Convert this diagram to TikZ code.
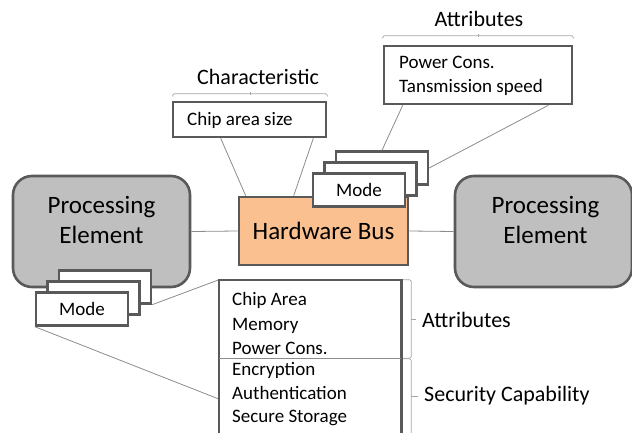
\documentclass[tikz,border=0pt]{standalone}
\usepackage{fontspec}
\setmainfont{Carlito}
\usetikzlibrary{calc}
\definecolor{bordc}{HTML}{595959}
\definecolor{pegray}{HTML}{BFBFBF}
\definecolor{hborange}{HTML}{FAC090}
\definecolor{linec}{HTML}{8C8C8C}
\definecolor{brc}{HTML}{A6A6A6}
\tikzset{
  pebox/.style={draw=bordc, line width=2.6pt, fill=pegray, rounded corners=19pt, minimum width=177pt, minimum height=111pt, inner sep=0pt},
  bigtext/.style={font=\fontsize{25}{30}\selectfont, align=center, inner sep=0pt},
  hbbox/.style={draw=bordc, line width=2.6pt, fill=hborange, minimum width=169pt, minimum height=68pt, inner sep=0pt, font=\fontsize{25}{30}\selectfont},
  modebox/.style={draw=bordc, line width=2.4pt, fill=white, minimum width=92pt, minimum height=33pt, inner sep=0pt, font=\fontsize{19}{23}\selectfont},
  infobox/.style={draw=bordc, line width=2.6pt, fill=white, inner sep=0pt},
  boxtext/.style={font=\fontsize{19}{24.5}\selectfont, align=left, inner sep=0pt},
  labeltext/.style={font=\fontsize{22}{26}\selectfont, inner sep=0pt},
  conn/.style={draw=linec, line width=0.8pt},
  brace/.style={draw=brc, line width=0.8pt, rounded corners=1.5pt},
}
\begin{document}
\begin{tikzpicture}[x=1pt,y=-1pt]
\useasboundingbox (0,0) rectangle (632,433);
\clip (0,0) rectangle (632,433);

% main nodes
\node[pebox] (peL) at (101.5,231.5) {};
\node[pebox] (peR) at (543.5,231.5) {};
\node[hbbox] (hb) at (323.5,231) {Hardware Bus};
\node[infobox, minimum width=153pt, minimum height=35pt] (ca) at (249.5,119.5) {};
\node[infobox, minimum width=188pt, minimum height=58pt] (at) at (478,75) {};
\node[minimum width=182pt, minimum height=78pt, inner sep=0pt] (battr) at (310,319) {};
\node[minimum width=182pt, minimum height=82pt, inner sep=0pt] (bsec) at (310,399) {};

% connectors (behind)
\draw[conn] (peL.east) -- (hb.west);
\draw[conn] (hb.east) -- (peR.west);
\coordinate (c1) at ($(ca.south west)+(49,0)$);
\coordinate (c2) at ($(hb.north west)+(8,0)$);
\coordinate (c3) at ($(ca.south east)+(-14,0)$);
\coordinate (c4) at ($(hb.north west)+(56,0)$);
\draw[conn] (c1) -- (c2);
\draw[conn] (c3) -- (c4);
\coordinate (a1) at ($(at.south west)+(20,0)$);
\coordinate (a2) at ($(at.south east)+(-25,0)$);

% PE texts
\node[bigtext] (peLt) at (101.5,220) {Processing\\Element};
\node[bigtext] (peRt) at (545.5,220) {Processing\\Element};

% top mode stack
\node[modebox] (mt3) at (382,168) {};
\node[modebox] (mt2) at (370.5,179) {};
\node[modebox] (mt1) at (359,190) {Mode};
\draw[conn] (a1) -- (mt3.north);
\draw[conn] (a2) -- (mt3.east);

% bottom-left mode stack
\node[modebox] (mb3) at (105,287) {};
\node[modebox] (mb2) at (93.5,298) {};
\node[modebox] (mb1) at (82,309) {Mode};
\draw[conn] (mb3.south east) -- (battr.north west);
\draw[conn] (mb1.south west) -- (bsec.west);

% box texts
\node[boxtext, anchor=west] (catext) at (187,120) {Chip area size};
\node[boxtext, anchor=west] (attext) at (399,76) {Power Cons.\\Tansmission speed};

% bottom box
\draw[draw=bordc, line width=2.6pt, fill=white] (battr.north west) rectangle (bsec.south east);
\draw[draw=linec, line width=1.2pt] (battr.south west) -- (battr.south east);
\node[boxtext, anchor=west, font=\fontsize{19}{24.5}\selectfont] (bat) at (232,323.5) {Chip Area\\Memory\\Power Cons.};
\node[boxtext, anchor=west, font=\fontsize{19}{23.5}\selectfont] (bst) at (232,394.5) {Encryption\\Authentication\\Secure Storage};

% braces
\draw[brace] ($(ca.north west)+(1,-4)$) -- ($(ca.north west)+(1,-7)$) -- ($(ca.north east)+(0,-7)$) -- ($(ca.north east)+(0,-4)$);
\draw[draw=brc, line width=0.8pt] (250,95) -- (250,92);
\node[labeltext] (chl) at (258,77) {Characteristic};

\draw[brace] ($(at.north west)+(0,-6)$) -- ($(at.north west)+(0,-9)$) -- ($(at.north east)+(0,-9)$) -- ($(at.north east)+(0,-6)$);
\draw[draw=brc, line width=0.8pt] (478,37) -- (478,34);
\node[labeltext] (atl) at (479,19) {Attributes};

\draw[brace] ($(battr.north east)+(2,0)$) -- ($(battr.north east)+(10,0)$) -- ($(battr.south east)+(10,0)$) -- ($(battr.south east)+(2,0)$);
\draw[draw=brc, line width=0.8pt] (411,319) -- (416,319);
\node[labeltext, anchor=west] (atr) at (422,320) {Attributes};

\draw[brace] ($(bsec.north east)+(2,1)$) -- ($(bsec.north east)+(10,1)$) -- ($(bsec.south east)+(10,0)$);
\draw[draw=brc, line width=0.8pt] (411,396) -- (418,396);
\node[labeltext, anchor=west] (scl) at (424,396) {Security Capability};
\end{tikzpicture}
\end{document}
